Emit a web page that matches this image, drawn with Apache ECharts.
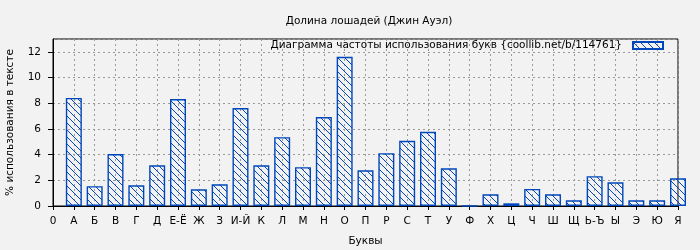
<!DOCTYPE html>
<html>
<head>
<meta charset="utf-8">
<script src="https://cdn.jsdelivr.net/npm/echarts@6/dist/echarts.min.js"></script>
<style>
html,body{margin:0;padding:0;background:#f2f2f2;}
#c{width:700px;height:250px;}
</style>
</head>
<body>
<div id="c"></div>
<script>
var categories = ["0","А","Б","В","Г","Д","Е-Ё","Ж","З","И-Й","К","Л","М","Н","О","П","Р","С","Т","У","Ф","Х","Ц","Ч","Ш","Щ","Ь-Ъ","Ы","Э","Ю","Я"];
var values = [null,8.41,1.54,4.04,1.61,3.17,8.33,1.30,1.69,7.63,3.17,5.36,3.02,6.92,11.61,2.78,4.11,5.07,5.78,2.94,0,0.91,0.21,1.33,0.91,0.44,2.32,1.85,0.44,0.44,2.16];
var yTicks = [0,2,4,6,8,10,12];
var titleText = "Долина лошадей (Джин Ауэл)";
var seriesName = "Диаграмма частоты использования букв {coollib.net/b/114761}";
var xName = "Буквы";
var yName = "% использования в тексте";

var blue = "#0047bb";
var T = 7;
var pc = document.createElement("canvas");
pc.width = T; pc.height = T;
var ctx = pc.getContext("2d");
ctx.fillStyle = blue;
for (var i = 0; i < T; i++) { ctx.fillRect(i, i, 1, 1); }

var font = "DejaVu Sans";
var fs = 10.5;
var chart = echarts.init(document.getElementById("c"), null, {renderer: "canvas"});
chart.setOption({
  backgroundColor: "#f2f2f2",
  animation: false,
  textStyle: {fontFamily: font},
  title: {
    text: titleText, left: 364, top: 11, textAlign: "center",
    textStyle: {fontFamily: font, fontSize: fs, fontWeight: "normal", color: "#000"}
  },
  legend: {
    right: 36, top: 40, padding: 0, align: "right",
    itemWidth: 30, itemHeight: 7, icon: "rect",
    textStyle: {fontFamily: font, fontSize: fs, color: "#000", padding: [0, 6, 0, 0]},
    data: [seriesName]
  },
  grid: {left: 53, right: 22, top: 39, bottom: 44, show: true, borderColor: "#000", borderWidth: 1,
    backgroundColor: "transparent", containLabel: false, outerBoundsMode: "none"},
  xAxis: {
    type: "category", data: categories, boundaryGap: false,
    name: xName, nameLocation: "middle", nameGap: 30,
    nameTextStyle: {fontFamily: font, fontSize: fs, color: "#000"},
    axisLine: {lineStyle: {color: "#000", width: 1}},
    axisTick: {show: true, inside: false, length: 4, interval: 0, lineStyle: {color: "#000"}},
    axisLabel: {interval: 0, margin: 10, fontFamily: font, fontSize: fs, color: "#000"},
    splitLine: {show: true, interval: 0, lineStyle: {color: "#999", type: [2, 3], width: 1}}
  },
  yAxis: {
    type: "value", min: 0, max: 13, interval: 2,
    name: yName, nameLocation: "middle", nameGap: 37, nameRotate: 90,
    nameTextStyle: {fontFamily: font, fontSize: fs, color: "#000"},
    axisLine: {show: true, lineStyle: {color: "#000", width: 1}},
    axisTick: {show: true, length: 5, lineStyle: {color: "#000"}},
    axisLabel: {margin: 12, fontFamily: font, fontSize: fs, color: "#000", showMaxLabel: false,
      formatter: function (v) { return yTicks.indexOf(v) >= 0 ? String(v) : ""; }},
    splitLine: {show: true, lineStyle: {color: "#999", type: [2, 3], width: 1}}
  },
  series: [{
    type: "bar", name: seriesName, data: values, barWidth: 16, clip: true,
    itemStyle: {color: {image: pc, repeat: "repeat"}, borderColor: blue, borderWidth: 1.4}
  }]
});
</script>
</body>
</html>
